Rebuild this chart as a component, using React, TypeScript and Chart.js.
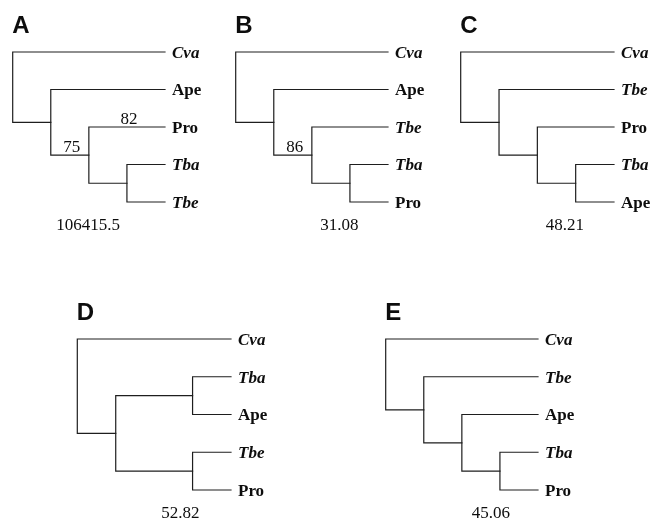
import React, { useEffect, useRef } from "react";
import { Chart, registerables } from "chart.js";

Chart.register(...registerables);

// ---------- data ----------
const panelLetters = ["A", "B", "C", "D", "E"];
// tree topologies with branch lengths (cladogram steps)
const treeNewick = [
  "(Cva:4,(Ape:3,(Pro:2,(Tba:1,Tbe:1):1):1):1)",
  "(Cva:4,(Ape:3,(Tbe:2,(Tba:1,Pro:1):1):1):1)",
  "(Cva:4,(Tbe:3,(Pro:2,(Tba:1,Ape:1):1):1):1)",
  "(Cva:4,((Tba:1,Ape:1):2,(Tbe:1,Pro:1):2):1)",
  "(Cva:4,(Tbe:3,(Ape:2,(Tba:1,Pro:1):1):1):1)",
];
const scoreValues = [106415.5, 31.08, 48.21, 52.82, 45.06];
const italicTaxa = ["Cva", "Tba", "Tbe"];
const supportPanels = ["A", "A", "B"];
const supportClades = [["Pro"], ["Pro", "Tba", "Tbe"], ["Tbe", "Tba", "Pro"]];
const supportValues = [82, 75, 86];

// ---------- layout (page pixels) ----------
const panelBoxes = [
  { left: 0, top: 0, width: 220, height: 250, x0: 12.7, x1: 165, y0: 52, y1: 202, scoreX: 1.98 },
  { left: 220, top: 0, width: 220, height: 250, x0: 235.7, x1: 388, y0: 52, y1: 202, scoreX: 2.72 },
  { left: 440, top: 0, width: 210, height: 250, x0: 460.7, x1: 614, y0: 52, y1: 202, scoreX: 2.72 },
  { left: 0, top: 262, width: 320, height: 256, x0: 77.3, x1: 231, y0: 339, y1: 490, scoreX: 2.68 },
  { left: 320, top: 262, width: 330, height: 256, x0: 385.7, x1: 538, y0: 339, y1: 490, scoreX: 2.76 },
];
const SCORE_Y = 4.63;
const LINE_COLOR = "#1e1e1e";
const TEXT_COLOR = "#0d0d0d";

type TNode = { name: string; len: number; children: TNode[]; x: number; y: number; parent?: TNode };

function parseNewick(s: string): TNode {
  let i = 0;
  function node(): TNode {
    const n: TNode = { name: "", len: 0, children: [], x: 0, y: 0 };
    if (s[i] === "(") {
      i++;
      n.children.push(node());
      while (s[i] === ",") {
        i++;
        n.children.push(node());
      }
      i++;
    }
    let name = "";
    while (i < s.length && !":,();".includes(s[i])) name += s[i++];
    n.name = name.trim();
    if (s[i] === ":") {
      i++;
      let num = "";
      while (i < s.length && !",();".includes(s[i])) num += s[i++];
      n.len = parseFloat(num);
    }
    return n;
  }
  return node();
}

function layoutTree(root: TNode) {
  let leafIdx = 0;
  function walk(n: TNode, px: number) {
    n.x = px + n.len;
    if (n.children.length === 0) {
      n.y = leafIdx++;
    } else {
      n.children.forEach((c) => {
        c.parent = n;
        walk(c, n.x);
      });
      n.y = (n.children[0].y + n.children[n.children.length - 1].y) / 2;
    }
  }
  root.len = 0;
  walk(root, 0);
}

function allNodes(n: TNode, out: TNode[] = []): TNode[] {
  out.push(n);
  n.children.forEach((c) => allNodes(c, out));
  return out;
}
function leafNames(n: TNode): string[] {
  if (n.children.length === 0) return [n.name];
  return n.children.flatMap(leafNames);
}

function Panel({ index }: { index: number }) {
  const ref = useRef<HTMLCanvasElement>(null);
  const box = panelBoxes[index];
  useEffect(() => {
    if (!ref.current) return;
    const root = parseNewick(treeNewick[index]);
    layoutTree(root);
    const nodes = allNodes(root);
    const datasets: any[] = [];
    nodes
      .filter((n) => n.children.length > 0)
      .forEach((n) => {
        const first = n.children[0];
        const last = n.children[n.children.length - 1];
        datasets.push({
          data: [
            { x: first.x, y: first.y },
            { x: n.x, y: first.y },
            { x: n.x, y: last.y },
            { x: last.x, y: last.y },
          ],
        });
        n.children.slice(1, -1).forEach((c) =>
          datasets.push({ data: [{ x: n.x, y: c.y }, { x: c.x, y: c.y }] })
        );
      });
    datasets.forEach((d) => {
      d.showLine = true;
      d.borderColor = LINE_COLOR;
      d.borderWidth = 1.2;
      d.pointRadius = 0;
      d.fill = false;
      d.tension = 0;
      d.clip = false;
      d.borderCapStyle = "square";
      d.borderJoinStyle = "miter";
    });

    const letter = panelLetters[index];
    const supports = supportValues
      .map((v, k) => ({ v, panel: supportPanels[k], clade: supportClades[k] }))
      .filter((s) => s.panel === letter)
      .map((s) => {
        const target = nodes.find((n) => {
          const ln = leafNames(n);
          return ln.length === s.clade.length && s.clade.every((c) => ln.includes(c));
        });
        return { v: s.v, node: target };
      })
      .filter((s) => s.node && s.node.parent);

    const textPlugin = {
      id: "treeText",
      afterDatasetsDraw(chart: any) {
        const ctx = chart.ctx;
        const xs = chart.scales.x;
        const ys = chart.scales.y;
        ctx.save();
        ctx.fillStyle = TEXT_COLOR;
        // leaf labels
        nodes
          .filter((n) => n.children.length === 0)
          .forEach((n) => {
            const italic = italicTaxa.includes(n.name);
            ctx.font = `${italic ? "italic " : ""}bold 17px "Liberation Serif", "Times New Roman", serif`;
            ctx.textAlign = "left";
            ctx.textBaseline = "middle";
            ctx.fillText(n.name, xs.getPixelForValue(n.x) + 7, ys.getPixelForValue(n.y) + 1.5);
          });
        // support values
        ctx.font = `17px "Liberation Serif", "Times New Roman", serif`;
        ctx.textAlign = "center";
        ctx.textBaseline = "alphabetic";
        supports.forEach((s) => {
          const n = s.node as TNode;
          const mx = (n.parent!.x + n.x) / 2;
          ctx.fillText(String(s.v), xs.getPixelForValue(mx) + 2, ys.getPixelForValue(n.y) - 3);
        });
        // score
        ctx.textBaseline = "middle";
        ctx.fillText(String(scoreValues[index]), xs.getPixelForValue(box.scoreX), ys.getPixelForValue(SCORE_Y));
        // panel letter
        ctx.font = `bold 24px "Liberation Sans", Arial, sans-serif`;
        ctx.textAlign = "left";
        ctx.textBaseline = "alphabetic";
        ctx.fillText(letter, xs.getPixelForValue(0) - 0.5, ys.getPixelForValue(0) - 19);
        ctx.restore();
      },
    };

    const chart = new Chart(ref.current, {
      type: "scatter",
      data: { datasets },
      options: {
        responsive: false,
        animation: false,
        events: [],
        layout: {
          padding: {
            left: box.x0 - box.left,
            right: box.left + box.width - box.x1,
            top: box.y0 - box.top,
            bottom: box.top + box.height - box.y1,
          },
        },
        scales: {
          x: { type: "linear", min: 0, max: 4, display: false },
          y: { type: "linear", min: 0, max: 4, reverse: true, display: false },
        },
        plugins: { legend: { display: false }, tooltip: { enabled: false } },
      },
      plugins: [textPlugin],
    });
    return () => chart.destroy();
  }, [index]);

  return (
    <canvas
      ref={ref}
      width={box.width}
      height={box.height}
      style={{ position: "absolute", left: box.left, top: box.top, width: box.width, height: box.height }}
    />
  );
}

export default function App() {
  return (
    <div style={{ position: "absolute", left: 0, top: 0, width: 650, height: 518, background: "#fff", overflow: "hidden" }}>
      {panelLetters.map((_, i) => (
        <Panel key={i} index={i} />
      ))}
    </div>
  );
}
